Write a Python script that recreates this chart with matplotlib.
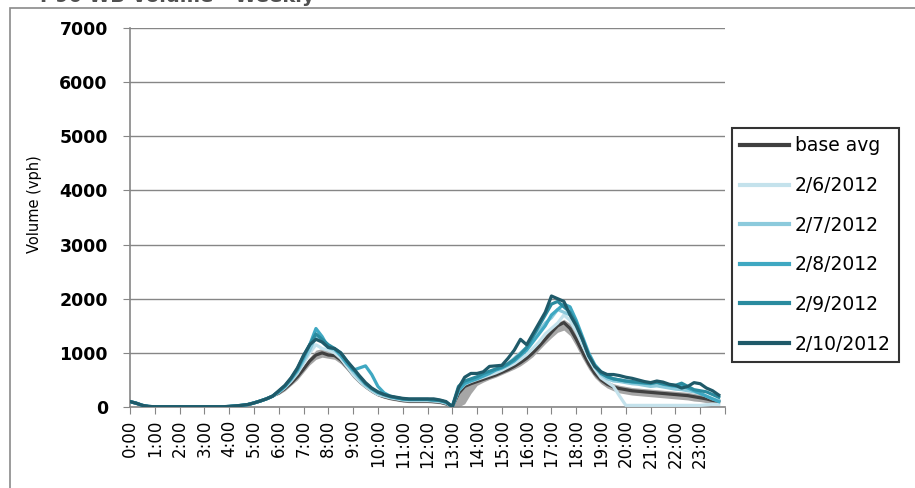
import matplotlib
matplotlib.use("Agg")
import matplotlib.pyplot as plt
from matplotlib.patches import Rectangle
import numpy as np

plt.rcParams['font.family'] = ['DejaVu Sans']

title = "I-90 WB Volume - Weekly"
y_label = "Volume (vph)"
hour_labels = [f"{h}:00" for h in range(24)]
series_names = ["base avg", "2/6/2012", "2/7/2012", "2/8/2012", "2/9/2012", "2/10/2012"]

early = [100, 70, 30, 10] + [5] * 12 + [10, 20, 30, 45] + [75, 110, 150, 200]

base_avg = early + [
    260, 340, 440, 560, 700, 850, 960, 1000, 960, 950, 870, 740,
    600, 480, 380, 300, 230, 190, 160, 140, 120, 110, 110, 110,
    110, 100, 90, 60, 10, 250, 380, 430, 470, 510, 550, 590,
    640, 690, 750, 820, 900, 1000, 1120, 1250, 1380, 1500, 1560, 1450,
    1250, 1020, 800, 620, 500, 420, 370, 340, 320, 300, 290, 280,
    270, 260, 250, 240, 230, 220, 210, 190, 170, 150, 120, 100]

base_lo = early + [
    230, 300, 400, 500, 640, 780, 880, 920, 900, 880, 800, 680,
    540, 430, 340, 260, 200, 160, 130, 110, 90, 80, 80, 80,
    80, 70, 60, 30, 0, 0, 60, 250, 400, 460, 510, 550,
    600, 650, 700, 760, 840, 930, 1050, 1170, 1280, 1380, 1420, 1320,
    1120, 900, 700, 540, 430, 350, 300, 260, 240, 220, 210, 200,
    190, 180, 170, 160, 150, 140, 130, 110, 100, 80, 60, 50]

base_hi = early + [
    290, 380, 490, 620, 760, 920, 1050, 1080, 1040, 1020, 940, 800,
    660, 530, 420, 340, 260, 220, 190, 170, 150, 140, 140, 140,
    140, 130, 120, 90, 30, 300, 420, 470, 510, 550, 590, 640,
    690, 740, 800, 880, 960, 1070, 1200, 1330, 1460, 1560, 1620, 1540,
    1350, 1120, 880, 700, 570, 480, 430, 400, 380, 360, 350, 340,
    330, 320, 310, 300, 290, 280, 270, 250, 230, 200, 170, 140]

d_0206 = early + [
    270, 360, 480, 620, 800, 1000, 1150, 1080, 1050, 1000, 900, 750,
    600, 480, 380, 300, 230, 200, 170, 150, 130, 120, 120, 120,
    120, 110, 100, 70, 10, 300, 420, 470, 510, 550, 590, 630,
    680, 740, 800, 880, 970, 1080, 1200, 1350, 1450, 1550, 1700, 1600,
    1400, 1150, 900, 700, 540, 460, 380, 200, 30, 30, 30, 30,
    30, 30, 30, 30, 30, 30, 30, 30, 30, 40, 50, 50]

d_0207 = early + [
    280, 370, 500, 650, 850, 1050, 1300, 1200, 1100, 1050, 950, 800,
    650, 520, 400, 320, 250, 210, 180, 160, 140, 130, 130, 130,
    130, 120, 110, 80, 10, 320, 450, 500, 540, 600, 650, 700,
    740, 800, 900, 1000, 1100, 1250, 1400, 1550, 1650, 1800, 1750, 1700,
    1550, 1250, 950, 750, 600, 520, 480, 470, 450, 430, 420, 400,
    380, 390, 370, 350, 330, 320, 300, 280, 250, 200, 150, 120]

d_0208 = early + [
    280, 380, 520, 680, 900, 1150, 1450, 1300, 1100, 1080, 950, 800,
    680, 720, 760, 600, 380, 260, 200, 170, 150, 140, 140, 140,
    140, 130, 120, 90, 10, 300, 430, 480, 520, 570, 620, 680,
    720, 780, 850, 950, 1050, 1200, 1350, 1500, 1700, 1800, 1900, 1850,
    1600, 1300, 1000, 780, 650, 560, 520, 500, 480, 460, 450, 440,
    430, 460, 420, 400, 380, 400, 350, 300, 250, 200, 150, 100]

d_0209 = early + [
    290, 390, 530, 700, 950, 1150, 1350, 1250, 1150, 1080, 1000, 850,
    700, 560, 430, 340, 270, 230, 190, 170, 150, 140, 140, 140,
    140, 130, 120, 90, 10, 380, 480, 520, 560, 620, 660, 700,
    740, 800, 880, 980, 1100, 1300, 1500, 1700, 1900, 1950, 1850, 1750,
    1550, 1250, 950, 750, 620, 560, 520, 500, 480, 470, 460, 450,
    440, 450, 430, 410, 400, 440, 380, 320, 300, 280, 230, 180]

d_0210 = early + [
    300, 400, 540, 720, 950, 1150, 1250, 1200, 1100, 1080, 1000, 850,
    720, 580, 450, 350, 280, 230, 200, 180, 160, 150, 150, 150,
    150, 150, 130, 100, 0, 350, 550, 620, 620, 650, 750, 760,
    770, 900, 1050, 1250, 1150, 1350, 1550, 1750, 2050, 2000, 1950, 1700,
    1500, 1250, 950, 750, 650, 600, 600, 580, 550, 530, 500, 470,
    450, 480, 460, 420, 400, 350, 380, 450, 430, 350, 300, 220]

series = [base_avg, d_0206, d_0207, d_0208, d_0209, d_0210]
colors = ["#404040", "#c4e2ec", "#8ccadc", "#3fa8c2", "#2a8b9f", "#1f5a69"]

W, H = 915, 488
fig = plt.figure(figsize=(W / 100, H / 100), dpi=100)

# outer chart border
fig.add_artist(Rectangle((10 / W, -0.1), 1.2, 1 - 8 / H + 0.1, transform=fig.transFigure,
                         fill=False, edgecolor="#8a8a8a", linewidth=1.2))
fig.text(40 / W, 1 + 4 / H, title, fontsize=14, fontweight="bold", ha="left", va="center",
         color="#505050")

ax = fig.add_axes([130 / W, 1 - 407 / H, (725 - 130) / W, (407 - 28) / H])
x = np.arange(len(base_avg)) / 4.0

ax.fill_between(x, base_lo, base_hi, color="#a6a6a6", linewidth=0, zorder=2)
for s, c, n in zip(series, colors, series_names):
    ax.plot(x, s, color=c, linewidth=2.3, label=n, zorder=3)

ax.set_xlim(0, 24)
ax.set_ylim(0, 7000)
ax.set_yticks(range(0, 7001, 1000))
ax.set_xticks(range(0, 25))
ax.set_xticklabels(hour_labels + [""], rotation=90, fontsize=12)
ax.tick_params(axis="y", labelsize=12.5, length=5, color="#868686", pad=11)
ax.tick_params(axis="x", length=5, color="#868686", pad=4)
for lab in ax.get_yticklabels():
    lab.set_fontweight("bold")
ax.grid(axis="y", color="#868686", linewidth=1)
ax.set_axisbelow(True)
for sp in ["top", "right"]:
    ax.spines[sp].set_visible(False)
for sp in ["left", "bottom"]:
    ax.spines[sp].set_color("#868686")
    ax.spines[sp].set_linewidth(1.2)
ax.set_ylabel(y_label, fontsize=10.5)
ax.yaxis.set_label_coords(-0.148, 0.535)

leg = fig.legend(loc="upper left", bbox_to_anchor=(732 / W, 1 - 128 / H), fontsize=13.5,
                 frameon=True, fancybox=False, handlelength=2.6, handletextpad=0.3,
                 labelspacing=1.1, borderpad=0.45, borderaxespad=0)
leg.get_frame().set_edgecolor("black")
leg.get_frame().set_linewidth(1.5)
for l in leg.get_lines():
    l.set_linewidth(3)

fig.savefig("out.png", dpi=100)
